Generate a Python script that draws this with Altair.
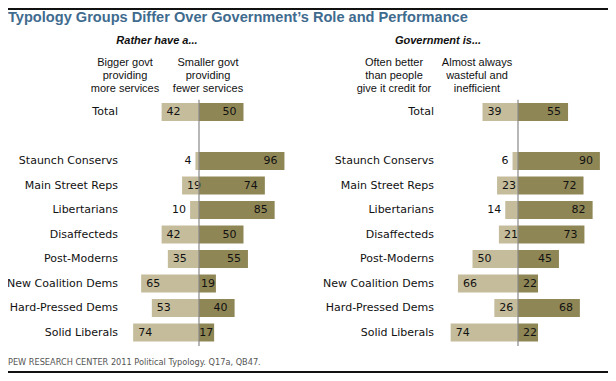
import altair as alt
import pandas as pd

# ---- data ----
groups = ["Total", "Staunch Conservs", "Main Street Reps", "Libertarians",
          "Disaffecteds", "Post-Moderns", "New Coalition Dems",
          "Hard-Pressed Dems", "Solid Liberals"]
bigger_govt = [42, 4, 19, 10, 42, 35, 65, 53, 74]
smaller_govt = [50, 96, 74, 85, 50, 55, 19, 40, 17]
often_better = [39, 6, 23, 14, 21, 50, 66, 26, 74]
wasteful = [55, 90, 72, 82, 73, 45, 22, 68, 22]

title_text = "Typology Groups Differ Over Government\u2019s Role and Performance"
left_header = "Rather have a..."
right_header = "Government is..."
left_light_head = ["Bigger govt", "providing", "more services"]
left_dark_head = ["Smaller govt", "providing", "fewer services"]
right_light_head = ["Often better", "than people", "give it credit for"]
right_dark_head = ["Almost always", "wasteful and", "inefficient"]
footer = "PEW RESEARCH CENTER 2011 Political Typology. Q17a, QB47."

df = pd.DataFrame({
    "group": groups,
    "bigger": bigger_govt,
    "smaller": smaller_govt,
    "better": often_better,
    "wasteful": wasteful,
})
one = pd.DataFrame({"k": [0]})

LIGHT = "#c5bc9b"
DARK = "#8f8656"
FONT = "DejaVu Sans"
NARROW = "Liberation Sans"
TXT = "#111111"

y_order = ["Total", " "] + groups[1:]
yscale = alt.Scale(domain=y_order, range=[91.75, 336.75],
                   paddingInner=0.265, paddingOuter=0.1325)
Y = alt.Y("group:N", scale=yscale, axis=None, title=None)


def panel(lcol, dcol, rng, label_x):
    sc = alt.Scale(domain=[-100, 100], range=rng, nice=False, zero=False)
    base = alt.Chart(df)
    neg = base.transform_calculate(neg=f"-datum.{lcol}")
    light = neg.mark_bar(color=LIGHT).encode(
        x=alt.X("neg:Q", scale=sc, axis=None), x2=alt.datum(0), y=Y)
    dark = base.mark_bar(color=DARK).encode(
        x=alt.X(f"{dcol}:Q", scale=sc, axis=None), x2=alt.datum(0), y=Y)
    txt = dict(font=FONT, fontSize=11, color=TXT, baseline="middle")
    light_in = neg.transform_filter(f"datum.{lcol} >= 15").mark_text(
        align="left", dx=5, **txt).encode(
        x=alt.X("neg:Q", scale=sc, axis=None), y=Y, text=f"{lcol}:Q")
    light_out = neg.transform_filter(f"datum.{lcol} < 15").mark_text(
        align="right", dx=-4, **txt).encode(
        x=alt.X("neg:Q", scale=sc, axis=None), y=Y, text=f"{lcol}:Q")
    dark_big = base.transform_filter(f"datum.{dcol} >= 30").mark_text(
        align="right", dx=-7, **txt).encode(
        x=alt.X(f"{dcol}:Q", scale=sc, axis=None), y=Y, text=f"{dcol}:Q")
    dark_small = base.transform_filter(f"datum.{dcol} < 30").mark_text(
        align="right", dx=-1, **txt).encode(
        x=alt.X(f"{dcol}:Q", scale=sc, axis=None), y=Y, text=f"{dcol}:Q")
    axis_line = alt.Chart(one).mark_rule(color="#888888", strokeWidth=1.2).encode(
        x=alt.XDatum(0, scale=sc, axis=None),
        y=alt.value(91.75), y2=alt.value(338))
    labels = base.mark_text(align="right", **txt).encode(
        x=alt.value(label_x), y=Y, text="group:N")
    return [light, dark, light_in, light_out, dark_big, dark_small, axis_line, labels]


def note(text, x, y, font=FONT, **kw):
    return alt.Chart(one).mark_text(text=text, font=font, **kw).encode(
        x=alt.value(x), y=alt.value(y))


layers = []
layers += panel("bigger", "smaller", [102, 280], 110)
layers += panel("better", "wasteful", [419, 601], 426)

sub = dict(font=NARROW, fontSize=11, color=TXT, align="center",
           baseline="middle", lineHeight=13)
head = dict(font=NARROW, fontSize=11, fontWeight="bold", fontStyle="italic",
            color=TXT, align="center", baseline="middle")
layers += [
    note(title_text, 0, 13.5, font=NARROW, fontSize=14.6, fontWeight="bold",
         color="#3f6b8e", align="left", baseline="alphabetic"),
    note(left_header, 149, 33, **head),
    note(right_header, 430, 33, **head),
    note(left_light_head, 117, 55, **sub),
    note(left_dark_head, 200, 55, **sub),
    note(right_light_head, 386, 55, **sub),
    note(right_dark_head, 469, 55, **sub),
    note(footer, 0, 355, fontSize=8.2, color="#555555", align="left",
         baseline="middle"),
    alt.Chart(one).mark_rule(color="#111111", strokeWidth=2).encode(
        x=alt.value(0), x2=alt.value(600), y=alt.value(1)),
    alt.Chart(one).mark_rule(color="#111111", strokeWidth=2).encode(
        x=alt.value(0), x2=alt.value(600), y=alt.value(364)),
]

chart = alt.layer(*layers).resolve_scale(x="independent").properties(
    width=600, height=365, autosize="none", padding=0, background="white"
).configure_view(stroke=None)

chart.save("out.html", embed_options={"renderer": "svg", "actions": False})
